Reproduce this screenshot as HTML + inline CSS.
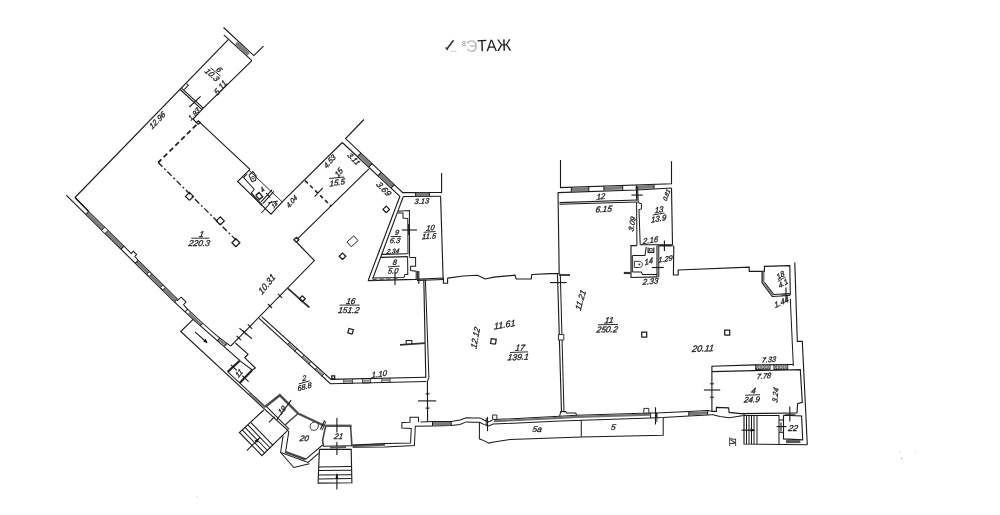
<!DOCTYPE html><html><head><meta charset="utf-8"><title>План этажа</title><style>html,body{margin:0;padding:0;background:#fff}body{width:1000px;height:515px;overflow:hidden}svg{display:block;filter:grayscale(1)}text{font-family:"Liberation Sans",sans-serif}</style></head><body>
<svg width="1000" height="515" viewBox="0 0 1000 515">
<rect width="1000" height="515" fill="#fff"/>
<g fill="none" stroke-linejoin="miter">
<polyline points="446.5,49.5 453.5,40.2" stroke="#333" stroke-width="1.60"/>
<polyline points="445.5,47.6 448.0,50.0" stroke="#444" stroke-width="1.34"/>
<polyline points="451.0,51.6 458.0,51.2" stroke="#bbb" stroke-width="0.90" stroke-dasharray="2,1.5"/>
<polyline points="223.5,27.5 253.8,55.6 263.5,46.2" stroke="#1a1a1a" stroke-width="1.12"/>
<polyline points="223.8,34.8 251.9,60.6" stroke="#1a1a1a" stroke-width="1.12"/>
<polyline points="236.3,42.9 248.6,54.3" stroke="#7c7c7c" stroke-width="3.80"/>
<polyline points="228.5,39.4 75.0,197.5" stroke="#1a1a1a" stroke-width="1.12"/>
<polyline points="251.9,60.6 203.3,108.2 193.2,119.2 196.8,123.0" stroke="#1a1a1a" stroke-width="1.12"/>
<polyline points="181.5,88.1 203.3,108.2" stroke="#1a1a1a" stroke-width="1.12"/>
<polyline points="180.2,89.5 202.0,109.6" stroke="#1a1a1a" stroke-width="1.12"/>
<polyline points="186.5,83.5 188.3,85.3 184.2,89.6" stroke="#1a1a1a" stroke-width="1.01"/>
<polyline points="189.4,107.0 200.6,96.4" stroke="#1a1a1a" stroke-width="1.12"/>
<polyline points="199.0,121.6 250.0,169.3" stroke="#1a1a1a" stroke-width="1.12"/>
<polyline points="198.3,124.4 196.5,122.6 198.3,120.8 200.1,122.6 198.3,124.4" stroke="#1a1a1a" stroke-width="1.23"/>
<polyline points="196.4,124.8 158.2,162.5" stroke="#222" stroke-width="1.80" stroke-dasharray="5,3.2"/>
<polyline points="158.2,162.5 236.6,240.6" stroke="#1a1a1a" stroke-width="1.29" stroke-dasharray="6,2.5,2,2.5"/>
<polyline points="189.5,200.4 185.5,196.4 189.5,192.4 193.5,196.4 189.5,200.4" stroke="#1a1a1a" stroke-width="1.23"/>
<polyline points="220.3,224.9 216.3,220.9 220.3,216.9 224.3,220.9 220.3,224.9" stroke="#1a1a1a" stroke-width="1.23"/>
<polyline points="235.9,246.7 231.9,242.7 235.9,238.7 239.9,242.7 235.9,246.7" stroke="#1a1a1a" stroke-width="1.23"/>
<polyline points="250.0,169.3 237.6,181.5 271.0,214.1 283.2,200.8" stroke="#1a1a1a" stroke-width="1.12"/>
<polyline points="249.0,170.4 282.2,201.9" stroke="#1a1a1a" stroke-width="0.90"/>
<polyline points="237.6,181.5 237.6,181.5" stroke="#1a1a1a" stroke-width="1.12"/>
<polyline points="247.2,174.0 243.6,177.6 254.2,189.2 251.2,193.2" stroke="#1a1a1a" stroke-width="1.01"/>
<polyline points="251.2,193.2 262.0,205.2" stroke="#333" stroke-width="1.80"/>
<polyline points="249.0,175.2 252.8,171.6 256.2,176.0 255.6,180.4 252.0,181.6 249.0,175.2" stroke="#1a1a1a" stroke-width="1.01"/>
<polyline points="255.8,195.4 259.0,192.6 262.6,196.6 259.4,199.6 255.8,195.4" stroke="#222" stroke-width="1.40"/>
<polyline points="272.2,189.7 261.1,201.9" stroke="#1a1a1a" stroke-width="1.01"/>
<polyline points="273.8,191.4 262.8,203.6" stroke="#1a1a1a" stroke-width="1.01"/>
<polyline points="266.0,192.8 270.4,197.6" stroke="#1a1a1a" stroke-width="1.01"/>
<polyline points="261.4,213.0 272.0,201.0" stroke="#1a1a1a" stroke-width="1.01"/>
<polyline points="268.0,203.0 277.8,201.0" stroke="#1a1a1a" stroke-width="1.01"/>
<polyline points="283.2,200.8 342.3,142.5" stroke="#1a1a1a" stroke-width="1.12"/>
<polyline points="66.2,195.2 173.8,301.3" stroke="#1a1a1a" stroke-width="1.12"/>
<polyline points="75.0,197.5 88.6,211.4" stroke="#1a1a1a" stroke-width="1.12"/>
<polyline points="173.8,301.3 193.1,319.4 240.0,360.6" stroke="#1a1a1a" stroke-width="1.12"/>
<polyline points="75.0,197.5 88.7,211.5" stroke="#1a1a1a" stroke-width="1.12"/>
<polyline points="87.2,213.0 122.5,247.7" stroke="#7a7a7a" stroke-width="2.80"/>
<polyline points="88.7,211.5 123.9,246.2" stroke="#1a1a1a" stroke-width="1.01"/>
<polyline points="85.7,214.5 88.7,211.5" stroke="#1a1a1a" stroke-width="1.01"/>
<polyline points="121.0,249.2 123.9,246.2" stroke="#1a1a1a" stroke-width="1.01"/>
<polyline points="123.9,246.2 131.3,253.5 133.4,251.3 136.6,254.5 134.8,256.3 138.2,260.3" stroke="#1a1a1a" stroke-width="1.01"/>
<polyline points="136.7,261.8 175.9,300.5" stroke="#7a7a7a" stroke-width="2.80"/>
<polyline points="138.2,260.3 177.4,299.0" stroke="#1a1a1a" stroke-width="1.01"/>
<polyline points="135.2,263.3 138.2,260.3" stroke="#1a1a1a" stroke-width="1.01"/>
<polyline points="174.5,302.0 177.4,299.0" stroke="#1a1a1a" stroke-width="1.01"/>
<polyline points="177.0,300.9 181.2,297.2 186.0,301.9 183.6,304.8 187.0,308.6" stroke="#1a1a1a" stroke-width="1.01"/>
<polyline points="188.6,313.0 201.0,324.6" stroke="#7c7c7c" stroke-width="2.60"/>
<polyline points="187.0,308.6 202.5,323.0 216.4,335.4 230.6,346.2" stroke="#1a1a1a" stroke-width="1.01"/>
<polyline points="185.2,311.6 187.8,309.2" stroke="#1a1a1a" stroke-width="1.01"/>
<polyline points="199.8,325.8 202.6,323.4" stroke="#1a1a1a" stroke-width="1.01"/>
<polyline points="218.4,339.4 225.4,344.6" stroke="#7c7c7c" stroke-width="2.40"/>
<polyline points="217.2,341.0 219.6,338.0" stroke="#1a1a1a" stroke-width="1.01"/>
<polyline points="224.4,346.4 226.8,343.6" stroke="#1a1a1a" stroke-width="1.01"/>
<polyline points="193.1,319.4 180.7,331.5 265.1,409.7 288.1,430.6" stroke="#1a1a1a" stroke-width="1.12"/>
<polyline points="195.0,331.9 206.9,342.5" stroke="#1a1a1a" stroke-width="1.12"/>
<polyline points="230.6,346.2 314.4,260.6 296.9,242.5" stroke="#1a1a1a" stroke-width="1.12"/>
<polyline points="236.6,335.8 240.9,340.2" stroke="#1a1a1a" stroke-width="1.12"/>
<polyline points="247.8,324.4 252.2,328.8" stroke="#1a1a1a" stroke-width="1.12"/>
<polyline points="268.0,304.0 272.0,308.0" stroke="#1a1a1a" stroke-width="1.12"/>
<polyline points="278.0,293.8 282.0,297.8" stroke="#1a1a1a" stroke-width="1.12"/>
<polyline points="242.2,330.2 246.6,334.6" stroke="#1a1a1a" stroke-width="1.12"/>
<polyline points="239.4,328.1 251.9,338.8" stroke="#1a1a1a" stroke-width="1.12"/>
<polyline points="235.4,343.0 248.0,354.2 244.8,357.8 255.4,368.0 252.3,370.0" stroke="#1a1a1a" stroke-width="1.12"/>
<polyline points="239.7,360.7 252.3,370.0" stroke="#1a1a1a" stroke-width="1.01"/>
<polyline points="239.7,360.7 227.7,371.9" stroke="#222" stroke-width="2.20"/>
<polyline points="252.3,370.0 239.6,382.9" stroke="#222" stroke-width="2.20"/>
<polyline points="231.0,364.8 236.6,370.4" stroke="#1a1a1a" stroke-width="1.12"/>
<polyline points="242.4,375.6 248.6,381.6" stroke="#1a1a1a" stroke-width="1.12"/>
<polyline points="227.7,371.9 265.2,406.7" stroke="#1a1a1a" stroke-width="1.01"/>
<polyline points="248.7,392.9 265.0,408.0" stroke="#777" stroke-width="1.60"/>
<polyline points="266.6,406.6 289.2,429.4" stroke="#1a1a1a" stroke-width="1.01"/>
<polyline points="265.2,406.7 279.8,395.2 298.1,413.5" stroke="#4a4a4a" stroke-width="2.40"/>
<polyline points="298.1,413.5 285.0,425.0" stroke="#4a4a4a" stroke-width="1.60"/>
<polyline points="276.6,420.0 291.2,400.2" stroke="#1a1a1a" stroke-width="1.12"/>
<polyline points="269.0,422.4 274.6,416.6" stroke="#1a1a1a" stroke-width="1.12"/>
<polyline points="263.8,410.0 239.4,432.5 261.9,455.6 286.9,431.2" stroke="#1a1a1a" stroke-width="1.12"/>
<polyline points="242.2,429.9 264.7,453.1" stroke="#1a1a1a" stroke-width="1.01"/>
<polyline points="245.0,427.4 267.5,450.5" stroke="#1a1a1a" stroke-width="1.01"/>
<polyline points="247.8,424.9 270.3,448.0" stroke="#1a1a1a" stroke-width="1.01"/>
<polyline points="250.6,422.3 273.1,445.4" stroke="#1a1a1a" stroke-width="1.01"/>
<polyline points="246.9,450.6 260.0,437.5" stroke="#1a1a1a" stroke-width="1.12"/>
<polyline points="286.9,430.0 288.8,431.6 285.6,451.9" stroke="#1a1a1a" stroke-width="1.01"/>
<polyline points="283.1,435.6 280.6,452.5 308.1,462.5 318.8,453.1" stroke="#1a1a1a" stroke-width="1.01"/>
<polyline points="285.0,451.9 305.6,459.4" stroke="#444" stroke-width="2.60"/>
<polyline points="305.6,459.4 321.9,445.6 323.4,445.6" stroke="#1a1a1a" stroke-width="1.01"/>
<polyline points="280.6,452.5 293.8,467.5 309.4,463.8" stroke="#1a1a1a" stroke-width="1.01"/>
<polyline points="298.1,413.5 323.8,425.6" stroke="#4a4a4a" stroke-width="2.20"/>
<polyline points="320.4,429.6 324.8,420.2" stroke="#1a1a1a" stroke-width="1.12"/>
<polyline points="322.0,430.4 326.0,421.4" stroke="#1a1a1a" stroke-width="0.90"/>
<polyline points="324.6,425.8 351.6,425.8" stroke="#555" stroke-width="2.40"/>
<polyline points="325.6,426.4 322.6,440.0 323.4,446.2" stroke="#444" stroke-width="1.60"/>
<polyline points="350.6,426.4 351.9,446.0" stroke="#444" stroke-width="1.60"/>
<polyline points="323.1,446.3 352.6,445.8" stroke="#1a1a1a" stroke-width="1.12"/>
<polyline points="336.9,418.1 336.9,432.5" stroke="#1a1a1a" stroke-width="1.12"/>
<polyline points="336.9,441.9 336.9,455.0" stroke="#1a1a1a" stroke-width="1.12"/>
<polyline points="330.0,447.4 346.0,447.0" stroke="#555" stroke-width="2.00"/>
<polyline points="352.6,445.9 385.0,444.6" stroke="#555" stroke-width="2.20"/>
<polyline points="352.6,444.9 385.0,443.5 410.6,443.1 411.2,428.5 401.9,428.1 401.9,422.5 410.0,422.2 410.0,417.2 418.5,417.2 418.5,421.9" stroke="#1a1a1a" stroke-width="1.01"/>
<polyline points="352.6,447.2 385.0,447.0 414.4,445.6 415.3,426.2 432.5,426.0" stroke="#1a1a1a" stroke-width="1.01"/>
<polyline points="420.6,421.9 432.5,421.5" stroke="#1a1a1a" stroke-width="1.01"/>
<polyline points="319.4,449.4 351.2,449.4 351.9,482.8 318.1,483.1 319.4,449.4" stroke="#1a1a1a" stroke-width="1.12"/>
<polyline points="318.7,466.9 351.6,466.6" stroke="#1a1a1a" stroke-width="1.01"/>
<polyline points="318.7,470.6 351.6,470.3" stroke="#1a1a1a" stroke-width="1.01"/>
<polyline points="318.7,475.0 351.6,474.7" stroke="#1a1a1a" stroke-width="1.01"/>
<polyline points="318.7,478.9 351.6,478.6" stroke="#1a1a1a" stroke-width="1.01"/>
<polyline points="336.9,489.5 336.9,474.0" stroke="#1a1a1a" stroke-width="1.12"/>
<polyline points="363.9,119.5 345.6,138.6 402.7,192.6 441.6,192.4 441.6,173.0" stroke="#1a1a1a" stroke-width="1.12"/>
<polyline points="342.3,142.5 399.9,196.3" stroke="#1a1a1a" stroke-width="1.12"/>
<polyline points="359.3,154.7 370.5,165.3" stroke="#7c7c7c" stroke-width="3.80"/>
<polyline points="360.9,153.0 357.7,156.4" stroke="#1a1a1a" stroke-width="1.01"/>
<polyline points="372.1,163.6 368.9,167.0" stroke="#1a1a1a" stroke-width="1.01"/>
<polyline points="379.6,173.9 392.7,186.4" stroke="#7c7c7c" stroke-width="3.80"/>
<polyline points="381.2,172.3 378.0,175.6" stroke="#1a1a1a" stroke-width="1.01"/>
<polyline points="394.3,184.7 391.2,188.0" stroke="#1a1a1a" stroke-width="1.01"/>
<polyline points="368.9,168.9 297.2,239.2" stroke="#1a1a1a" stroke-width="1.12"/>
<polyline points="296.4,242.3 293.9,239.8 296.4,237.3 298.9,239.8 296.4,242.3" stroke="#1a1a1a" stroke-width="1.23"/>
<polyline points="305.0,180.6 331.4,206.4" stroke="#222" stroke-width="1.60" stroke-dasharray="4,3"/>
<polyline points="314.6,196.7 322.8,187.9" stroke="#1a1a1a" stroke-width="1.12"/>
<polyline points="329.1,178.4 344.3,177.1" stroke="#222" stroke-width="1.01"/>
<polyline points="399.9,196.3 368.1,280.6" stroke="#1a1a1a" stroke-width="1.12"/>
<polyline points="403.3,196.6 372.7,278.6" stroke="#1a1a1a" stroke-width="1.12"/>
<polyline points="403.3,196.5 440.6,196.3" stroke="#1a1a1a" stroke-width="1.12"/>
<polyline points="415.6,194.4 429.4,194.4" stroke="#7c7c7c" stroke-width="3.20"/>
<polyline points="415.6,192.5 415.6,196.4" stroke="#1a1a1a" stroke-width="1.01"/>
<polyline points="429.4,192.5 429.4,196.4" stroke="#1a1a1a" stroke-width="1.01"/>
<polyline points="440.6,196.3 443.1,277.8" stroke="#1a1a1a" stroke-width="1.12"/>
<polyline points="368.1,280.6 415.0,279.4 443.4,278.0 443.4,283.3 447.6,283.3 447.6,278.0" stroke="#1a1a1a" stroke-width="1.12"/>
<polyline points="398.0,211.3 409.4,210.6 409.6,254.0" stroke="#1a1a1a" stroke-width="1.01"/>
<polyline points="398.0,213.0 403.0,213.0 403.0,218.0 407.8,218.6 408.0,254.0" stroke="#1a1a1a" stroke-width="1.01"/>
<polyline points="381.9,254.4 407.6,253.8" stroke="#1a1a1a" stroke-width="1.12"/>
<polyline points="380.6,257.4 407.6,256.6" stroke="#1a1a1a" stroke-width="1.12"/>
<polyline points="407.6,256.6 407.8,274.4" stroke="#1a1a1a" stroke-width="1.01"/>
<polyline points="409.4,254.0 409.4,257.5" stroke="#1a1a1a" stroke-width="1.01"/>
<polyline points="372.5,278.1 403.8,277.5 405.0,274.4 408.1,274.4" stroke="#1a1a1a" stroke-width="1.01"/>
<polyline points="410.0,257.5 415.6,257.5 415.6,266.2 410.6,266.2 410.6,270.6 416.2,271.2 416.2,278.8" stroke="#1a1a1a" stroke-width="1.01"/>
<polyline points="372.6,279.6 400.0,279.0" stroke="#555" stroke-width="1.60" stroke-dasharray="4,3"/>
<polyline points="401.9,230.0 416.9,230.0" stroke="#1a1a1a" stroke-width="1.12"/>
<polyline points="408.7,224.0 408.7,235.0" stroke="#1a1a1a" stroke-width="1.12"/>
<polyline points="418.8,271.0 418.8,284.0" stroke="#1a1a1a" stroke-width="1.12"/>
<polyline points="417.5,271.0 417.5,279.0" stroke="#1a1a1a" stroke-width="0.90"/>
<polyline points="395.0,272.5 395.0,285.0" stroke="#1a1a1a" stroke-width="1.12"/>
<polyline points="386.2,212.7 383.0,209.4 386.2,206.1 389.5,209.4 386.2,212.7" stroke="#1a1a1a" stroke-width="1.23"/>
<polyline points="342.5,259.5 339.2,256.2 342.5,253.0 345.8,256.2 342.5,259.5" stroke="#1a1a1a" stroke-width="1.23"/>
<polyline points="352.2,334.1 347.8,332.9 349.0,328.4 353.4,329.6 352.2,334.1" stroke="#1a1a1a" stroke-width="1.23"/>
<polyline points="287.5,288.1 309.4,307.5" stroke="#333" stroke-width="1.80"/>
<polyline points="302.3,301.8 299.3,298.8 302.3,295.8 305.3,298.8 302.3,301.8" stroke="#1a1a1a" stroke-width="1.23"/>
<polyline points="258.8,318.2 330.4,383.7 426.2,381.5" stroke="#1a1a1a" stroke-width="1.12"/>
<polyline points="261.6,316.6 331.0,379.4 426.2,377.2" stroke="#1a1a1a" stroke-width="1.12"/>
<polyline points="288.4,343.6 295.6,350.2" stroke="#8a8a8a" stroke-width="2.00"/>
<polyline points="302.6,356.6 309.6,363.0" stroke="#8a8a8a" stroke-width="2.00"/>
<polyline points="315.8,368.6 322.8,375.0" stroke="#8a8a8a" stroke-width="2.00"/>
<polyline points="287.2,345.0 289.8,342.2" stroke="#1a1a1a" stroke-width="0.90"/>
<polyline points="294.4,351.6 297.0,348.8" stroke="#1a1a1a" stroke-width="0.90"/>
<polyline points="301.4,358.0 304.0,355.2" stroke="#1a1a1a" stroke-width="0.90"/>
<polyline points="308.4,364.4 311.0,361.6" stroke="#1a1a1a" stroke-width="0.90"/>
<polyline points="314.6,370.0 317.2,367.2" stroke="#1a1a1a" stroke-width="0.90"/>
<polyline points="321.6,376.4 324.2,373.6" stroke="#1a1a1a" stroke-width="0.90"/>
<polyline points="343.8,379.2 343.8,383.4 352.5,383.2 352.5,379.0" stroke="#1a1a1a" stroke-width="0.90"/>
<polyline points="343.8,381.2 352.5,381.0" stroke="#888" stroke-width="2.00"/>
<polyline points="362.5,378.8 362.5,383.0 370.6,382.8 370.6,378.6" stroke="#1a1a1a" stroke-width="0.90"/>
<polyline points="362.5,380.8 370.6,380.6" stroke="#888" stroke-width="2.00"/>
<polyline points="381.9,378.3 381.9,382.5 390.0,382.3 390.0,378.1" stroke="#1a1a1a" stroke-width="0.90"/>
<polyline points="381.9,380.3 390.0,380.1" stroke="#888" stroke-width="2.00"/>
<polyline points="334.7,378.9 331.7,378.9 331.7,375.9 334.7,375.9 334.7,378.9" stroke="#1a1a1a" stroke-width="1.23"/>
<polyline points="447.6,278.1 463.2,276.0 477.6,275.2 485.0,279.0 494.0,277.1 515.0,275.2 516.2,279.0 531.2,279.0 531.8,274.5 550.0,273.6 559.2,273.6" stroke="#1a1a1a" stroke-width="1.12"/>
<polyline points="417.0,280.4 443.4,279.6" stroke="#1a1a1a" stroke-width="1.01"/>
<polyline points="423.8,279.6 425.8,377.4" stroke="#1a1a1a" stroke-width="1.12"/>
<polyline points="425.4,279.4 428.9,377.6" stroke="#1a1a1a" stroke-width="1.01"/>
<polyline points="428.9,377.6 427.4,381.4 427.6,421.3" stroke="#1a1a1a" stroke-width="1.12"/>
<polyline points="400.0,344.8 425.0,343.2" stroke="#333" stroke-width="1.80"/>
<polyline points="406.2,344.4 406.2,340.6 411.9,340.6 411.9,343.9" stroke="#1a1a1a" stroke-width="1.01"/>
<polyline points="418.0,400.9 436.2,400.9" stroke="#1a1a1a" stroke-width="1.12"/>
<polyline points="425.6,393.8 429.6,393.8" stroke="#1a1a1a" stroke-width="1.01"/>
<polyline points="425.6,408.1 429.6,408.1" stroke="#1a1a1a" stroke-width="1.01"/>
<polyline points="432.5,423.6 451.2,423.4" stroke="#7c7c7c" stroke-width="3.20"/>
<polyline points="432.5,421.5 432.5,426.0" stroke="#1a1a1a" stroke-width="1.01"/>
<polyline points="451.2,421.3 451.2,425.6" stroke="#1a1a1a" stroke-width="1.01"/>
<polyline points="432.5,421.5 451.2,421.5 460.0,420.0 466.2,417.8 472.5,418.1 480.0,417.9 483.8,420.0 488.8,421.9 492.5,420.0" stroke="#1a1a1a" stroke-width="1.01"/>
<polyline points="432.5,426.0 451.2,425.4 460.0,424.4 466.2,421.9 472.5,422.2 479.4,422.2 483.8,424.4 488.8,426.0 493.8,423.8" stroke="#1a1a1a" stroke-width="1.01"/>
<polyline points="479.4,422.2 479.4,438.8 483.8,440.6 488.8,443.1 493.8,441.9 510.0,439.4 581.3,437.1 663.2,435.3 663.2,417.6" stroke="#1a1a1a" stroke-width="1.01"/>
<polyline points="581.3,420.0 581.3,437.1" stroke="#1a1a1a" stroke-width="1.01"/>
<polyline points="487.5,416.9 487.5,431.2" stroke="#1a1a1a" stroke-width="1.12"/>
<polyline points="486.2,418.0 486.2,426.0" stroke="#1a1a1a" stroke-width="0.90"/>
<polyline points="493.8,419.6 559.6,416.3 576.7,415.2 650.6,413.1 650.6,418.0" stroke="#1a1a1a" stroke-width="1.01"/>
<polyline points="493.8,424.0 560.3,421.1 650.6,418.0 663.2,417.6 688.8,416.0 707.6,415.0 711.9,414.8" stroke="#1a1a1a" stroke-width="1.01"/>
<polyline points="494.0,421.2 559.6,417.9 576.7,416.8 650.4,414.6" stroke="#707070" stroke-width="2.20"/>
<polyline points="650.6,413.1 656.6,412.9 656.6,417.8" stroke="#1a1a1a" stroke-width="1.01"/>
<polyline points="656.6,412.9 688.8,411.6" stroke="#1a1a1a" stroke-width="1.01"/>
<polyline points="557.6,277.0 561.5,412.6" stroke="#1a1a1a" stroke-width="1.12"/>
<polyline points="560.3,273.8 564.0,412.6" stroke="#1a1a1a" stroke-width="1.01"/>
<polyline points="559.6,416.3 560.7,411.6 565.9,411.6 566.3,413.0 575.7,413.0 576.7,415.2" stroke="#1a1a1a" stroke-width="1.01"/>
<polyline points="559.0,275.0 570.0,275.0" stroke="#333" stroke-width="1.80"/>
<polyline points="550.0,282.6 566.6,282.6" stroke="#1a1a1a" stroke-width="1.12"/>
<polyline points="495.5,344.2 490.6,343.5 491.3,338.6 496.2,339.3 495.5,344.2" stroke="#1a1a1a" stroke-width="1.23"/>
<polyline points="560.5,160.0 560.5,187.6 671.5,183.8 671.5,161.3" stroke="#1a1a1a" stroke-width="1.12"/>
<polyline points="571.3,189.6 588.8,189.0" stroke="#7c7c7c" stroke-width="3.60"/>
<polyline points="571.3,187.2 571.3,192.1" stroke="#1a1a1a" stroke-width="1.01"/>
<polyline points="588.8,186.6 588.8,191.4" stroke="#1a1a1a" stroke-width="1.01"/>
<polyline points="603.9,188.4 622.7,187.7" stroke="#7c7c7c" stroke-width="3.60"/>
<polyline points="603.9,186.1 603.9,190.7" stroke="#1a1a1a" stroke-width="1.01"/>
<polyline points="622.7,185.5 622.7,190.0" stroke="#1a1a1a" stroke-width="1.01"/>
<polyline points="636.4,187.2 654.0,186.6" stroke="#7c7c7c" stroke-width="3.60"/>
<polyline points="636.4,185.0 636.4,189.4" stroke="#1a1a1a" stroke-width="1.01"/>
<polyline points="654.0,184.4 654.0,188.7" stroke="#1a1a1a" stroke-width="1.01"/>
<polyline points="558.0,192.6 636.4,190.0 671.5,188.0" stroke="#1a1a1a" stroke-width="1.12"/>
<polyline points="558.0,192.6 559.2,273.8" stroke="#1a1a1a" stroke-width="1.12"/>
<polyline points="559.5,202.6 636.6,200.0" stroke="#1a1a1a" stroke-width="1.12"/>
<polyline points="559.5,204.2 636.6,201.9" stroke="#1a1a1a" stroke-width="1.01"/>
<polyline points="636.2,186.4 636.9,201.0" stroke="#1a1a1a" stroke-width="1.12"/>
<polyline points="637.6,186.4 638.2,202.6" stroke="#1a1a1a" stroke-width="1.01"/>
<polyline points="637.6,202.6 641.4,203.8 641.4,208.9 639.0,209.6 640.2,244.7" stroke="#1a1a1a" stroke-width="1.01"/>
<polyline points="636.6,202.0 636.9,245.6" stroke="#1a1a1a" stroke-width="1.01"/>
<polyline points="631.4,195.1 642.7,195.1" stroke="#1a1a1a" stroke-width="1.12"/>
<polyline points="636.9,190.6 636.9,199.6" stroke="#1a1a1a" stroke-width="1.01"/>
<polyline points="671.5,188.0 672.5,244.7 640.2,244.7" stroke="#1a1a1a" stroke-width="1.12"/>
<polyline points="657.8,245.6 672.5,245.4" stroke="#555" stroke-width="2.00"/>
<polyline points="636.9,245.6 631.0,245.6 631.0,277.5 657.0,276.9" stroke="#1a1a1a" stroke-width="1.12"/>
<polyline points="657.0,245.6 657.0,276.9" stroke="#1a1a1a" stroke-width="1.12"/>
<polyline points="658.8,245.6 658.8,277.5" stroke="#1a1a1a" stroke-width="1.01"/>
<polyline points="632.5,255.6 645.0,255.6 646.2,246.9" stroke="#1a1a1a" stroke-width="1.01"/>
<polyline points="632.3,255.6 632.3,272.0" stroke="#444" stroke-width="1.60"/>
<polyline points="632.5,271.9 641.2,271.9 642.5,274.4 657.0,274.4" stroke="#1a1a1a" stroke-width="1.01"/>
<polyline points="648.1,247.5 648.1,252.5 653.8,252.5 653.8,247.5" stroke="#1a1a1a" stroke-width="1.12"/>
<polyline points="623.8,273.0 630.6,273.0" stroke="#333" stroke-width="2.20"/>
<polyline points="651.9,267.5 663.8,267.5" stroke="#1a1a1a" stroke-width="1.12"/>
<polyline points="664.4,240.6 664.4,251.0" stroke="#1a1a1a" stroke-width="1.12"/>
<polyline points="660.0,245.6 671.3,245.6" stroke="#1a1a1a" stroke-width="1.01"/>
<polyline points="672.8,245.6 673.8,246.4 673.4,275.0 678.2,275.0 678.2,270.0 749.2,267.2 749.2,271.4 764.4,271.4 764.4,266.4 789.8,265.6 790.3,295.0" stroke="#1a1a1a" stroke-width="1.12"/>
<polyline points="557.4,273.8 557.4,277.4" stroke="#1a1a1a" stroke-width="1.01"/>
<polyline points="763.2,271.6 763.2,282.6" stroke="#7c7c7c" stroke-width="2.60"/>
<polyline points="762.0,271.4 762.0,282.8 772.2,296.6 789.8,295.6" stroke="#1a1a1a" stroke-width="1.01"/>
<polyline points="764.4,282.4 773.6,294.4 789.8,293.6" stroke="#1a1a1a" stroke-width="1.01"/>
<polyline points="763.4,282.8 773.0,295.6" stroke="#7c7c7c" stroke-width="1.60"/>
<polyline points="786.0,287.6 786.0,301.4" stroke="#1a1a1a" stroke-width="1.12"/>
<polyline points="781.5,295.0 790.3,295.0" stroke="#1a1a1a" stroke-width="1.01"/>
<polyline points="794.8,262.5 797.3,341.4 802.3,341.4 807.3,444.7" stroke="#1a1a1a" stroke-width="1.12"/>
<polyline points="790.3,298.8 793.3,365.2 792.8,364.7" stroke="#1a1a1a" stroke-width="1.01"/>
<polyline points="711.9,411.4 711.9,366.3 755.2,364.9 793.0,364.5" stroke="#1a1a1a" stroke-width="1.12"/>
<polyline points="711.9,371.6 800.3,369.6 802.3,402.4 797.6,403.6 797.0,413.0" stroke="#1a1a1a" stroke-width="1.12"/>
<polyline points="755.7,364.8 755.7,369.4 770.0,369.2 770.0,364.6" stroke="#1a1a1a" stroke-width="1.01"/>
<polyline points="756.1,365.3 758.9,368.9" stroke="#333" stroke-width="1.01"/>
<polyline points="756.1,368.9 758.9,365.3" stroke="#333" stroke-width="1.01"/>
<polyline points="759.7,365.3 762.5,368.9" stroke="#333" stroke-width="1.01"/>
<polyline points="759.7,368.9 762.5,365.3" stroke="#333" stroke-width="1.01"/>
<polyline points="763.2,365.3 766.0,368.9" stroke="#333" stroke-width="1.01"/>
<polyline points="763.2,368.9 766.0,365.3" stroke="#333" stroke-width="1.01"/>
<polyline points="766.8,365.3 769.6,368.9" stroke="#333" stroke-width="1.01"/>
<polyline points="766.8,368.9 769.6,365.3" stroke="#333" stroke-width="1.01"/>
<polyline points="755.7,367.1 770.0,367.0" stroke="#9a9a9a" stroke-width="1.34"/>
<polyline points="774.0,364.8 774.0,369.4 787.7,369.2 787.7,364.6" stroke="#1a1a1a" stroke-width="1.01"/>
<polyline points="774.4,365.3 777.0,368.9" stroke="#333" stroke-width="1.01"/>
<polyline points="774.4,368.9 777.0,365.3" stroke="#333" stroke-width="1.01"/>
<polyline points="777.8,365.3 780.4,368.9" stroke="#333" stroke-width="1.01"/>
<polyline points="777.8,368.9 780.4,365.3" stroke="#333" stroke-width="1.01"/>
<polyline points="781.2,365.3 783.9,368.9" stroke="#333" stroke-width="1.01"/>
<polyline points="781.2,368.9 783.9,365.3" stroke="#333" stroke-width="1.01"/>
<polyline points="784.7,365.3 787.3,368.9" stroke="#333" stroke-width="1.01"/>
<polyline points="784.7,368.9 787.3,365.3" stroke="#333" stroke-width="1.01"/>
<polyline points="774.0,367.1 787.7,367.0" stroke="#9a9a9a" stroke-width="1.34"/>
<polyline points="711.9,411.4 716.4,411.4 716.4,407.4 728.6,407.9 729.2,412.4 740.4,413.6 797.0,413.0" stroke="#1a1a1a" stroke-width="1.12"/>
<polyline points="703.9,390.0 720.2,390.0" stroke="#1a1a1a" stroke-width="1.12"/>
<polyline points="710.0,383.8 714.0,383.8" stroke="#1a1a1a" stroke-width="1.01"/>
<polyline points="710.0,397.2 714.0,397.2" stroke="#1a1a1a" stroke-width="1.01"/>
<polyline points="688.8,411.6 707.6,410.6 711.9,411.2" stroke="#1a1a1a" stroke-width="1.01"/>
<polyline points="688.8,413.7 707.6,412.8" stroke="#777" stroke-width="3.20"/>
<polyline points="688.8,411.6 688.8,416.0" stroke="#1a1a1a" stroke-width="1.01"/>
<polyline points="707.6,410.6 707.6,415.0" stroke="#1a1a1a" stroke-width="1.01"/>
<polyline points="655.5,407.3 655.5,424.5" stroke="#1a1a1a" stroke-width="1.12"/>
<polyline points="656.9,412.9 656.9,422.0" stroke="#1a1a1a" stroke-width="0.90"/>
<polyline points="744.0,413.9 744.0,444.0 807.3,444.7" stroke="#1a1a1a" stroke-width="1.12"/>
<polyline points="746.5,415.6 746.5,444.0" stroke="#1a1a1a" stroke-width="1.01"/>
<polyline points="749.0,415.6 749.0,444.0" stroke="#1a1a1a" stroke-width="1.01"/>
<polyline points="751.5,415.6 751.5,444.0" stroke="#1a1a1a" stroke-width="1.01"/>
<polyline points="754.0,415.6 754.0,444.0" stroke="#1a1a1a" stroke-width="1.01"/>
<polyline points="757.0,415.6 757.0,444.0" stroke="#1a1a1a" stroke-width="1.01"/>
<polyline points="744.0,415.6 779.0,415.6 779.0,444.2" stroke="#1a1a1a" stroke-width="1.01"/>
<polyline points="741.5,430.2 754.0,430.2" stroke="#1a1a1a" stroke-width="1.12"/>
<polyline points="783.5,415.2 801.6,416.0 802.7,439.9 783.5,438.9 783.5,415.2" stroke="#1a1a1a" stroke-width="1.12"/>
<polyline points="779.0,420.0 783.5,420.0" stroke="#1a1a1a" stroke-width="1.01"/>
<polyline points="779.0,432.3 783.5,432.3" stroke="#1a1a1a" stroke-width="1.01"/>
<polyline points="711.9,414.6 720.0,416.6 729.3,417.7 743.6,415.6" stroke="#1a1a1a" stroke-width="1.01"/>
<polyline points="786.0,441.6 800.3,441.6" stroke="#555" stroke-width="3.00"/>
<polyline points="789.8,406.4 789.8,421.4" stroke="#1a1a1a" stroke-width="1.12"/>
<polyline points="785.3,414.8 795.3,414.8" stroke="#1a1a1a" stroke-width="1.01"/>
<polyline points="776.5,426.6 786.5,426.6" stroke="#1a1a1a" stroke-width="1.12"/>
<polyline points="781.0,422.6 781.0,431.4" stroke="#1a1a1a" stroke-width="1.12"/>
<polyline points="729.6,437.4 729.6,446.0" stroke="#1a1a1a" stroke-width="0.78"/>
<polyline points="735.6,438.4 735.6,446.0" stroke="#1a1a1a" stroke-width="0.78"/>
<polyline points="641.7,337.2 641.7,332.2 646.7,332.2 646.7,337.2 641.7,337.2" stroke="#1a1a1a" stroke-width="1.23"/>
<polyline points="724.7,335.2 724.7,330.2 729.7,330.2 729.7,335.2 724.7,335.2" stroke="#1a1a1a" stroke-width="1.23"/>
</g>
<polygon points="104.9,233.6 101.6,230.4 104.8,227.1 108.1,230.3 104.9,233.6" fill="#fff" stroke="#1a1a1a" stroke-width="0.9"/>
<polygon points="149.3,276.5 146.8,274.2 149.2,271.7 151.6,274.1 149.3,276.5" fill="#fff" stroke="#1a1a1a" stroke-width="0.9"/>
<polygon points="162.9,290.0 160.4,287.6 162.8,285.1 165.2,287.5 162.9,290.0" fill="#fff" stroke="#1a1a1a" stroke-width="0.9"/>
<polygon points="492.6,419.4 492.6,415.0 496.9,415.0 496.9,419.4" fill="#fff" stroke="#1a1a1a" stroke-width="0.9"/>
<polygon points="558.4,334.6 563.8,334.6 563.8,340.0 558.4,340.0" fill="#fff" stroke="#1a1a1a" stroke-width="0.9"/>
<polygon points="643.8,413.2 643.8,408.4 648.8,408.4 648.8,413.0" fill="#fff" stroke="#1a1a1a" stroke-width="0.9"/>
<text transform="translate(466.2,52.0) rotate(-2) scale(0.955,1)" font-size="16.5" fill="#1c1c1c"><tspan fill="#b8b8b8">Э</tspan>ТАЖ</text><text transform="translate(464,46)" font-size="7" text-anchor="middle" fill="#8a8a8a">8</text><g fill="#999"><circle cx="900" cy="452" r="0.5"/><circle cx="901.6" cy="458.4" r="0.6"/><circle cx="915" cy="452" r="0.4"/><circle cx="197" cy="497" r="0.5"/></g><circle cx="253" cy="177.6" r="1.3" fill="none" stroke="#222" stroke-width="0.8"/><polygon points="207.6,343.2 203.2,341.6 205.6,338.8" fill="#111"/><polygon points="258.6,438.8 254.6,440.4 257.2,443.0" fill="#111"/><path d="M314.5,422 C310,422.5 309.2,427 311,429.4 C313,431 317,430.6 318,427.6 C318.6,425.6 318.4,424 317.6,423" fill="none" stroke="#222" stroke-width="0.9"/><polygon points="336.9,473 335.4,478.5 338.4,478.5" fill="#111"/><rect x="-4.6" y="-3.2" width="9.2" height="6.4" transform="translate(352.5,241.3) rotate(-42)" fill="#fff" stroke="#1a1a1a" stroke-width="0.9"/><rect x="649.6" y="248.6" width="2.6" height="2.4" fill="none" stroke="#222" stroke-width="0.8"/><path d="M634.4,261.3 L639.4,261.3 C643.4,261.6 643.4,267.3 639.4,267.5 L634.4,267.5 Z" fill="none" stroke="#222" stroke-width="0.9"/><circle cx="639.4" cy="264.4" r="0.9" fill="#222"/><polygon points="755.6,430.2 750.6,428.6 750.6,431.8" fill="#111"/>
<g text-anchor="middle">
<text transform="translate(157.2,120.2) rotate(-46.0) skewX(-10)" dy="0.36em" font-size="8.0" font-style="italic" font-weight="normal" fill="#222" stroke="#222" stroke-width="0.3">12.96</text>
<text transform="translate(194.0,114.0) rotate(-48.0) skewX(-10)" dy="0.36em" font-size="7.0" font-style="italic" font-weight="normal" fill="#222" stroke="#222" stroke-width="0.3">1.93</text>
<text transform="translate(220.4,87.4) rotate(-52.0) skewX(-10)" dy="0.36em" font-size="8.5" font-style="italic" font-weight="normal" fill="#222" stroke="#222" stroke-width="0.3">5.11</text>
<g transform="translate(215.6,72.0) rotate(40.0) skewX(-10)" font-size="8.0" font-style="italic" fill="#222" stroke="#222" stroke-width="0.3">
<text x="0.5" y="-1.5">6</text><line x1="-6.5" y1="0" x2="6.5" y2="0" stroke="#222" stroke-width="0.9"/><text x="0" y="7.3">10.3</text></g>
<g transform="translate(200.3,238.2) rotate(0.0) skewX(-10)" font-size="8.5" font-style="italic" fill="#222" stroke="#222" stroke-width="0.3">
<text x="0.5" y="-1.5">1</text><line x1="-9.0" y1="0" x2="9.0" y2="0" stroke="#222" stroke-width="0.9"/><text x="0" y="7.7">220.3</text></g>
<text transform="translate(291.7,201.4) rotate(-50.0) skewX(-10)" dy="0.36em" font-size="7.0" font-style="italic" font-weight="normal" fill="#222" stroke="#222" stroke-width="0.3">4.04</text>
<text transform="translate(266.7,284.0) rotate(-52.0) skewX(-10)" dy="0.36em" font-size="9.0" font-style="italic" font-weight="normal" fill="#222" stroke="#222" stroke-width="0.3">10.31</text>
<text transform="translate(329.6,161.2) rotate(-50.0) skewX(-10)" dy="0.36em" font-size="7.5" font-style="italic" font-weight="normal" fill="#222" stroke="#222" stroke-width="0.3">4.53</text>
<text transform="translate(353.9,158.8) rotate(45.0) skewX(-10)" dy="0.36em" font-size="7.5" font-style="italic" font-weight="normal" fill="#222" stroke="#222" stroke-width="0.3">3.11</text>
<text transform="translate(384.0,188.9) rotate(45.0) skewX(-10)" dy="0.36em" font-size="8.5" font-style="italic" font-weight="normal" fill="#222" stroke="#222" stroke-width="0.3">3.69</text>
<text transform="translate(338.8,172.4) rotate(-55.0) skewX(-10)" dy="0.36em" font-size="8.0" font-style="italic" font-weight="normal" fill="#222" stroke="#222" stroke-width="0.3">15</text>
<text transform="translate(337.3,182.4) rotate(-8.0) skewX(-10)" dy="0.36em" font-size="8.0" font-style="italic" font-weight="normal" fill="#222" stroke="#222" stroke-width="0.3">15.5</text>
<text transform="translate(421.9,201.0) rotate(-3.0) skewX(-10)" dy="0.36em" font-size="7.5" font-style="italic" font-weight="normal" fill="#222" stroke="#222" stroke-width="0.3">3.13</text>
<g transform="translate(395.9,236.5) rotate(0.0) skewX(-10)" font-size="7.5" font-style="italic" fill="#222" stroke="#222" stroke-width="0.3">
<text x="0.5" y="-1.5">9</text><line x1="-5.0" y1="0" x2="5.0" y2="0" stroke="#222" stroke-width="0.9"/><text x="0" y="6.9">6.3</text></g>
<g transform="translate(429.6,231.9) rotate(-4.0) skewX(-10)" font-size="7.5" font-style="italic" fill="#222" stroke="#222" stroke-width="0.3">
<text x="0.5" y="-1.5">10</text><line x1="-6.0" y1="0" x2="6.0" y2="0" stroke="#222" stroke-width="0.9"/><text x="0" y="6.9">11.5</text></g>
<text transform="translate(393.0,251.0) rotate(-4.0) skewX(-10)" dy="0.36em" font-size="6.5" font-style="italic" font-weight="normal" fill="#222" stroke="#222" stroke-width="0.3">2.34</text>
<g transform="translate(393.8,266.5) rotate(-4.0) skewX(-10)" font-size="7.5" font-style="italic" fill="#222" stroke="#222" stroke-width="0.3">
<text x="0.5" y="-1.5">8</text><line x1="-6.0" y1="0" x2="6.0" y2="0" stroke="#222" stroke-width="0.9"/><text x="0" y="6.9">5.0</text></g>
<g transform="translate(349.6,305.1) rotate(0.0) skewX(-10)" font-size="8.5" font-style="italic" fill="#222" stroke="#222" stroke-width="0.3">
<text x="0.5" y="-1.5">16</text><line x1="-10.0" y1="0" x2="10.0" y2="0" stroke="#222" stroke-width="0.9"/><text x="0" y="7.7">151.2</text></g>
<g transform="translate(304.2,382.4) rotate(-15.0) skewX(-10)" font-size="7.5" font-style="italic" fill="#222" stroke="#222" stroke-width="0.3">
<text x="0.5" y="-1.5">2</text><line x1="-5.5" y1="0" x2="5.5" y2="0" stroke="#222" stroke-width="0.9"/><text x="0" y="6.9">68.8</text></g>
<text transform="translate(379.4,373.8) rotate(-8.0) skewX(-10)" dy="0.36em" font-size="8.0" font-style="italic" font-weight="normal" fill="#222" stroke="#222" stroke-width="0.3">1.10</text>
<text transform="translate(239.0,373.2) rotate(-50.0) skewX(-10)" dy="0.36em" font-size="7.5" font-style="italic" font-weight="normal" fill="#222" stroke="#222" stroke-width="0.3">11</text>
<text transform="translate(281.9,410.0) rotate(-48.0) skewX(-10)" dy="0.36em" font-size="7.5" font-style="italic" font-weight="normal" fill="#222" stroke="#222" stroke-width="0.3">19</text>
<text transform="translate(304.4,438.1) rotate(0.0) skewX(-10)" dy="0.36em" font-size="8.0" font-style="italic" font-weight="normal" fill="#222" stroke="#222" stroke-width="0.3">20</text>
<text transform="translate(338.8,436.2) rotate(0.0) skewX(-10)" dy="0.36em" font-size="8.0" font-style="italic" font-weight="normal" fill="#222" stroke="#222" stroke-width="0.3">21</text>
<text transform="translate(504.7,324.4) rotate(-10.0) skewX(-10)" dy="0.36em" font-size="9.0" font-style="italic" font-weight="normal" fill="#222" stroke="#222" stroke-width="0.3">11.61</text>
<text transform="translate(475.2,337.7) rotate(-80.0) skewX(-10)" dy="0.36em" font-size="8.5" font-style="italic" font-weight="normal" fill="#222" stroke="#222" stroke-width="0.3">12.12</text>
<g transform="translate(519.0,352.2) rotate(-2.0) skewX(-10)" font-size="8.5" font-style="italic" fill="#222" stroke="#222" stroke-width="0.3">
<text x="0.5" y="-1.5">17</text><line x1="-9.0" y1="0" x2="9.0" y2="0" stroke="#222" stroke-width="0.9"/><text x="0" y="7.7">139.1</text></g>
<text transform="translate(537.3,428.9) rotate(0.0) skewX(-10)" dy="0.36em" font-size="8.5" font-style="italic" font-weight="normal" fill="#222" stroke="#222" stroke-width="0.3">5а</text>
<text transform="translate(613.4,427.0) rotate(0.0) skewX(-10)" dy="0.36em" font-size="8.5" font-style="italic" font-weight="normal" fill="#222" stroke="#222" stroke-width="0.3">5</text>
<text transform="translate(580.4,300.0) rotate(-75.0) skewX(-10)" dy="0.36em" font-size="8.5" font-style="italic" font-weight="normal" fill="#222" stroke="#222" stroke-width="0.3">11.21</text>
<g transform="translate(608.0,324.6) rotate(-1.0) skewX(-10)" font-size="8.5" font-style="italic" fill="#222" stroke="#222" stroke-width="0.3">
<text x="0.5" y="-1.5">11</text><line x1="-10.0" y1="0" x2="10.0" y2="0" stroke="#222" stroke-width="0.9"/><text x="0" y="7.7">250.2</text></g>
<text transform="translate(703.1,348.2) rotate(-3.0) skewX(-10)" dy="0.36em" font-size="9.0" font-style="italic" font-weight="normal" fill="#222" stroke="#222" stroke-width="0.3">20.11</text>
<text transform="translate(600.9,196.3) rotate(-8.0) skewX(-10)" dy="0.36em" font-size="8.0" font-style="italic" font-weight="normal" fill="#222" stroke="#222" stroke-width="0.3">12</text>
<text transform="translate(603.9,208.9) rotate(-3.0) skewX(-10)" dy="0.36em" font-size="8.5" font-style="italic" font-weight="normal" fill="#222" stroke="#222" stroke-width="0.3">6.15</text>
<text transform="translate(631.9,223.9) rotate(-80.0) skewX(-10)" dy="0.36em" font-size="7.5" font-style="italic" font-weight="normal" fill="#222" stroke="#222" stroke-width="0.3">3.09</text>
<g transform="translate(658.6,214.0) rotate(-10.0) skewX(-10)" font-size="8.0" font-style="italic" fill="#222" stroke="#222" stroke-width="0.3">
<text x="0.5" y="-1.5">13</text><line x1="-6.0" y1="0" x2="6.0" y2="0" stroke="#222" stroke-width="0.9"/><text x="0" y="7.3">13.9</text></g>
<text transform="translate(666.5,195.0) rotate(-70.0) skewX(-10)" dy="0.36em" font-size="6.0" font-style="italic" font-weight="normal" fill="#222" stroke="#222" stroke-width="0.3">0.81</text>
<text transform="translate(650.6,240.0) rotate(-8.0) skewX(-10)" dy="0.36em" font-size="8.0" font-style="italic" font-weight="normal" fill="#222" stroke="#222" stroke-width="0.3">2.16</text>
<text transform="translate(648.8,261.2) rotate(-15.0) skewX(-10)" dy="0.36em" font-size="8.0" font-style="italic" font-weight="normal" fill="#222" stroke="#222" stroke-width="0.3">14</text>
<text transform="translate(665.6,258.8) rotate(-8.0) skewX(-10)" dy="0.36em" font-size="7.5" font-style="italic" font-weight="normal" fill="#222" stroke="#222" stroke-width="0.3">1.29</text>
<text transform="translate(650.6,281.2) rotate(-5.0) skewX(-10)" dy="0.36em" font-size="8.0" font-style="italic" font-weight="normal" fill="#222" stroke="#222" stroke-width="0.3">2.33</text>
<text transform="translate(781.5,302.0) rotate(-25.0) skewX(-10)" dy="0.36em" font-size="8.0" font-style="italic" font-weight="normal" fill="#222" stroke="#222" stroke-width="0.3">1.44</text>
<g transform="translate(781.6,279.2) rotate(-32.0) skewX(-10)" font-size="7.5" font-style="italic" fill="#222" stroke="#222" stroke-width="0.3">
<text x="0.5" y="-1.5">18</text><line x1="-4.5" y1="0" x2="4.5" y2="0" stroke="#222" stroke-width="0.9"/><text x="0" y="6.9">4.1</text></g>
<g transform="translate(752.6,395.0) rotate(-2.0) skewX(-10)" font-size="8.0" font-style="italic" fill="#222" stroke="#222" stroke-width="0.3">
<text x="0.5" y="-1.5">4</text><line x1="-7.5" y1="0" x2="7.5" y2="0" stroke="#222" stroke-width="0.9"/><text x="0" y="7.3">24.9</text></g>
<text transform="translate(775.3,395.0) rotate(-85.0) skewX(-10)" dy="0.36em" font-size="7.5" font-style="italic" font-weight="normal" fill="#222" stroke="#222" stroke-width="0.3">3.24</text>
<text transform="translate(769.0,359.5) rotate(-5.0) skewX(-10)" dy="0.36em" font-size="7.5" font-style="italic" font-weight="normal" fill="#222" stroke="#222" stroke-width="0.3">7.33</text>
<text transform="translate(764.0,375.8) rotate(-5.0) skewX(-10)" dy="0.36em" font-size="7.5" font-style="italic" font-weight="normal" fill="#222" stroke="#222" stroke-width="0.3">7.78</text>
<text transform="translate(793.3,427.7) rotate(0.0) skewX(-10)" dy="0.36em" font-size="8.5" font-style="italic" font-weight="normal" fill="#222" stroke="#222" stroke-width="0.3">22</text>
<text transform="translate(732.7,441.4) rotate(-85.0) skewX(-10)" dy="0.36em" font-size="7.0" font-style="normal" font-weight="normal" fill="#222" stroke="#222" stroke-width="0.3">VI</text>
<text transform="translate(262.4,189.6) rotate(-50.0) skewX(-10)" dy="0.36em" font-size="6.5" font-style="italic" font-weight="normal" fill="#222" stroke="#222" stroke-width="0.3">4</text>
<text transform="translate(274.4,204.6) rotate(-50.0) skewX(-10)" dy="0.36em" font-size="5.5" font-style="italic" font-weight="normal" fill="#222" stroke="#222" stroke-width="0.3">1а</text>
</g>
</svg></body></html>
